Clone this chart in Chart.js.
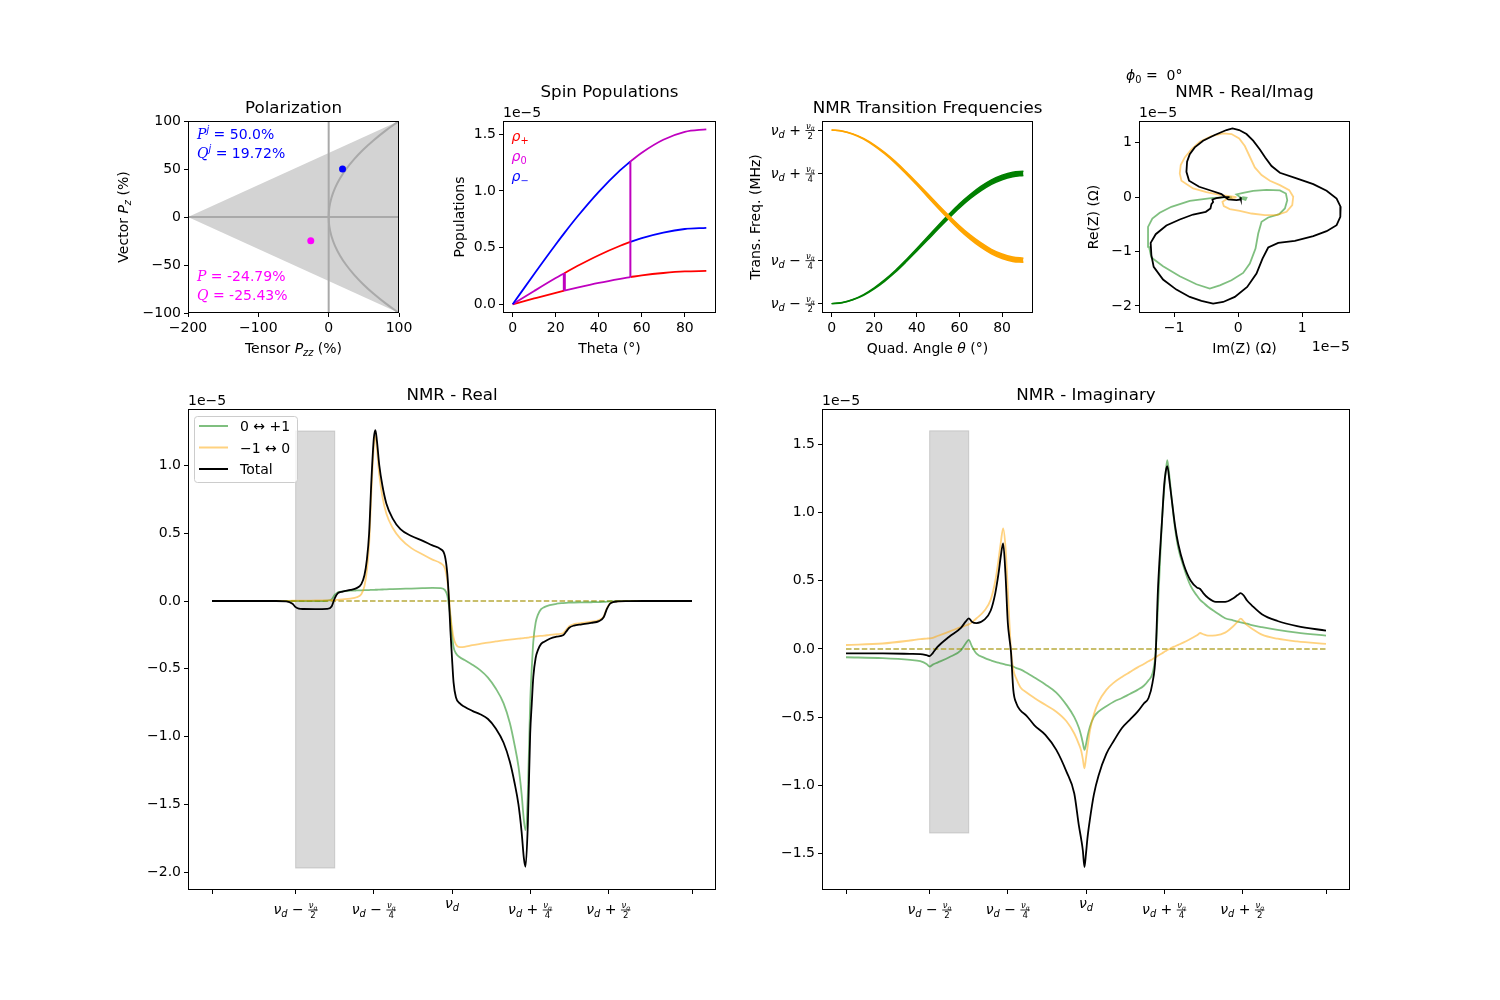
<!DOCTYPE html>
<html>
<head>
<meta charset="utf-8">
<script src="https://cdn.jsdelivr.net/npm/chart.js@4.4.1/dist/chart.umd.min.js"></script>
<style>
  html, body { margin: 0; padding: 0; background: #fff; }
  body { position: relative; width: 1500px; height: 1000px; overflow: hidden; }
  canvas { position: absolute; }
</style>
</head>
<body>
<canvas id="pol"></canvas>
<canvas id="pop"></canvas>
<canvas id="trans"></canvas>
<canvas id="cplx"></canvas>
<canvas id="real"></canvas>
<canvas id="imag"></canvas>
<script>
// ---- Polarization ----
const polTensor = [19.72, -25.43];   // [initial (j), current]  Q
const polVector = [50.0, -24.79];    // [initial (j), current]  P
const triUpper = [[-200, 0], [100, 100]];
const triLower = [[-200, 0], [100, -100]];
const parabolaY = [-100, -90, -80, -70, -60, -50, -40, -30, -20, -10, 0, 10, 20, 30, 40, 50, 60, 70, 80, 90, 100];
const parabolaX = [100, 81, 64, 49, 36, 25, 16, 9, 4, 1, 0, 1, 4, 9, 16, 25, 36, 49, 64, 81, 100];

// ---- Spin populations (x1e-5) ----
const popTheta  = [0, 10, 20, 24, 30, 40, 50, 54.7, 60, 70, 80, 90];
const popUpper  = [0, 0.268, 0.528, 0.628, 0.772, 0.992, 1.183, 1.260, 1.337, 1.451, 1.521, 1.544];
const popMiddle = [0, 0.117, 0.231, 0.274, 0.337, 0.433, 0.516, 0.550, 0.584, 0.633, 0.664, 0.674];
const popLower  = [0, 0.051, 0.101, 0.120, 0.147, 0.189, 0.225, 0.240, 0.255, 0.276, 0.290, 0.294];
const popBreaks = [24, 54.7];

// ---- Transition frequencies (units of nu_q, relative to nu_d) ----
const quadTheta = [0, 5, 10, 15, 20, 25, 30, 35, 40, 45, 50, 55, 60, 65, 70, 75, 80, 85, 90];
const greenLow   = [-0.500, -0.495, -0.478, -0.452, -0.415, -0.370, -0.318, -0.259, -0.197, -0.134, -0.070, -0.008, 0.051, 0.104, 0.149, 0.187, 0.214, 0.231, 0.238];
const greenHigh  = [-0.500, -0.493, -0.476, -0.448, -0.409, -0.362, -0.308, -0.247, -0.183, -0.116, -0.050, 0.014, 0.075, 0.128, 0.175, 0.213, 0.240, 0.257, 0.262];
const orangeHigh = [0.500, 0.495, 0.478, 0.452, 0.415, 0.370, 0.318, 0.259, 0.197, 0.134, 0.070, 0.008, -0.051, -0.104, -0.149, -0.187, -0.214, -0.231, -0.238];
const orangeLow  = [0.500, 0.493, 0.476, 0.448, 0.409, 0.362, 0.308, 0.247, 0.183, 0.116, 0.050, -0.014, -0.075, -0.128, -0.175, -0.213, -0.240, -0.257, -0.262];
const quadTicks = [-0.5, -0.25, 0.25, 0.5];
const quadTickLabels = ['-2', '-4', '+4', '+2'];   // nu_d -/+ nu_q/den

// ---- Real / Imag parametric (x1e-5): [Im, Re] ----
const cplxTotal = [[0.031,0.000],[0.042,-0.043],[-0.026,-0.055],[-0.156,-0.043],[-0.208,0.006],[-0.260,0.055],[-0.417,0.117],[-0.609,0.190],[-0.766,0.301],[-0.807,0.466],[-0.797,0.650],[-0.755,0.791],[-0.677,0.914],[-0.547,1.037],[-0.365,1.141],[-0.182,1.233],[-0.089,1.264],[0.016,1.233],[0.130,1.160],[0.234,1.037],[0.339,0.877],[0.422,0.730],[0.521,0.571],[0.651,0.448],[0.911,0.344],[1.172,0.239],[1.380,0.117],[1.536,-0.025],[1.599,-0.178],[1.594,-0.362],[1.536,-0.515],[1.380,-0.626],[1.172,-0.718],[0.885,-0.804],[0.625,-0.840],[0.469,-0.926],[0.380,-1.129],[0.286,-1.405],[0.141,-1.650],[-0.052,-1.834],[-0.234,-1.926],[-0.391,-1.957],[-0.573,-1.908],[-0.755,-1.834],[-0.964,-1.699],[-1.172,-1.515],[-1.318,-1.282],[-1.354,-1.067],[-1.365,-0.840],[-1.286,-0.681],[-1.120,-0.521],[-0.911,-0.411],[-0.703,-0.319],[-0.505,-0.270],[-0.432,-0.209],[-0.417,-0.129],[-0.391,-0.092],[-0.401,-0.043],[-0.339,-0.018],[-0.234,0.000],[-0.135,0.000]];
const cplxGreen = [[0.063,0.000],[0.130,-0.012],[0.115,-0.049],[0.068,-0.031],[-0.026,0.049],[0.078,0.080],[0.234,0.117],[0.443,0.135],[0.651,0.123],[0.745,0.067],[0.766,-0.055],[0.729,-0.209],[0.641,-0.313],[0.469,-0.374],[0.365,-0.454],[0.313,-0.669],[0.271,-0.945],[0.182,-1.221],[0.078,-1.393],[-0.104,-1.528],[-0.286,-1.620],[-0.443,-1.681],[-0.651,-1.601],[-0.911,-1.454],[-1.172,-1.270],[-1.354,-1.110],[-1.391,-0.914],[-1.406,-0.546],[-1.339,-0.393],[-1.224,-0.288],[-1.042,-0.178],[-0.755,-0.067],[-0.391,-0.012],[-0.099,0.000]];
const cplxOrange = [[-0.026,0.000],[-0.104,0.012],[-0.286,0.043],[-0.495,0.092],[-0.703,0.160],[-0.885,0.301],[-0.911,0.436],[-0.896,0.589],[-0.833,0.730],[-0.729,0.877],[-0.599,1.018],[-0.417,1.123],[-0.234,1.172],[-0.104,1.160],[0.016,1.080],[0.104,0.939],[0.182,0.742],[0.260,0.546],[0.365,0.405],[0.495,0.301],[0.651,0.221],[0.797,0.129],[0.859,0.006],[0.844,-0.147],[0.755,-0.270],[0.599,-0.331],[0.417,-0.331],[0.208,-0.301],[0.026,-0.252],[-0.130,-0.221],[-0.224,-0.166],[-0.245,-0.086],[-0.182,-0.037],[-0.068,-0.012],[-0.026,0.000]];

// ---- NMR lineshapes (x1e-5); frequency in units of nu_q/4 from nu_d ----
const freq = [-3.07, -2.6, -2.25, -2.12, -2.04, -2.0, -1.96, -1.9, -1.75, -1.6,
  -1.54, -1.5, -1.46, -1.4, -1.3, -1.22, -1.16, -1.12, -1.09, -1.06,
  -1.03, -1.0, -0.98, -0.96, -0.93, -0.89, -0.84, -0.76, -0.66, -0.52,
  -0.38, -0.25, -0.15, -0.09, -0.06, -0.04, -0.02, 0.0, 0.02, 0.05,
  0.1, 0.16, 0.26, 0.36, 0.46, 0.56, 0.66, 0.74, 0.8, 0.85,
  0.89, 0.92, 0.94, 0.97, 1.0, 1.02, 1.04, 1.07, 1.1, 1.14,
  1.18, 1.25, 1.34, 1.42, 1.46, 1.5, 1.56, 1.66, 1.78, 1.88,
  1.94, 1.98, 2.02, 2.06, 2.12, 2.25, 2.45, 2.7, 3.07];
const realGreen = [0, 0, 0, 0, 0, 0, 0, 0, 0, 0.002,
  0.012, 0.045, 0.064, 0.071, 0.076, 0.078, 0.079, 0.08, 0.081, 0.081,
  0.082, 0.082, 0.083, 0.083, 0.084, 0.085, 0.086, 0.088, 0.09, 0.092,
  0.095, 0.097, 0.095, 0.08, 0.04, -0.03, -0.12, -0.25, -0.34, -0.385,
  -0.415, -0.435, -0.47, -0.51, -0.565, -0.645, -0.755, -0.9, -1.06, -1.22,
  -1.42, -1.62, -1.69, -1.42, -0.75, -0.5, -0.3, -0.16, -0.1, -0.06,
  -0.045, -0.03, -0.02, -0.015, -0.013, -0.012, -0.011, -0.01, -0.009, -0.008,
  -0.007, -0.005, -0.003, -0.002, -0.001, 0, 0, 0, 0];
const realOrange = [0, 0, 0, 0.001, 0.002, 0.002, 0.003, 0.003, 0.004, 0.005,
  0.006, 0.007, 0.009, 0.012, 0.018, 0.028, 0.05, 0.11, 0.22, 0.42,
  0.82, 1.14, 1.22, 1.12, 0.93, 0.77, 0.645, 0.54, 0.46, 0.39,
  0.345, 0.305, 0.28, 0.24, 0.15, 0.04, -0.1, -0.2, -0.27, -0.32,
  -0.34, -0.338, -0.326, -0.316, -0.306, -0.298, -0.29, -0.285, -0.281, -0.278,
  -0.275, -0.273, -0.272, -0.27, -0.267, -0.265, -0.263, -0.261, -0.259, -0.257,
  -0.255, -0.25, -0.245, -0.238, -0.213, -0.185, -0.17, -0.162, -0.152, -0.14,
  -0.113, -0.055, -0.017, -0.006, -0.002, -0.001, 0, 0, 0];
const realTotal = [0, 0, 0, -0.002, -0.02, -0.045, -0.056, -0.059, -0.06, -0.058,
  -0.04, 0.02, 0.058, 0.07, 0.082, 0.095, 0.125, 0.19, 0.3, 0.5,
  0.9, 1.2, 1.26, 1.18, 1.0, 0.85, 0.72, 0.61, 0.53, 0.48,
  0.445, 0.41, 0.385, 0.33, 0.2, 0.02, -0.22, -0.42, -0.6, -0.71,
  -0.755, -0.78, -0.81, -0.835, -0.87, -0.94, -1.045, -1.185, -1.34, -1.5,
  -1.7, -1.9, -1.96, -1.65, -0.98, -0.76, -0.56, -0.42, -0.36, -0.316,
  -0.3, -0.278, -0.263, -0.253, -0.226, -0.197, -0.181, -0.172, -0.161, -0.148,
  -0.12, -0.06, -0.02, -0.008, -0.003, -0.001, 0, 0, 0];
const imagGreen = [-0.061, -0.067, -0.08, -0.09, -0.11, -0.13, -0.115, -0.1, -0.061, -0.01,
  0.04, 0.066, 0.02, -0.035, -0.065, -0.083, -0.095, -0.1, -0.105, -0.11,
  -0.115, -0.118, -0.12, -0.123, -0.13, -0.14, -0.15, -0.175, -0.21, -0.26,
  -0.32, -0.41, -0.5, -0.58, -0.64, -0.69, -0.74, -0.7, -0.64, -0.57,
  -0.5, -0.46, -0.42, -0.385, -0.36, -0.33, -0.3, -0.27, -0.23, -0.18,
  -0.03, 0.3, 0.55, 0.92, 1.17, 1.3, 1.385, 1.25, 1.08, 0.88,
  0.74, 0.6, 0.46, 0.39, 0.36, 0.34, 0.31, 0.27, 0.225, 0.21,
  0.2, 0.195, 0.19, 0.185, 0.175, 0.16, 0.14, 0.12, 0.098];
const imagOrange = [0.029, 0.04, 0.062, 0.072, 0.076, 0.078, 0.082, 0.095, 0.127, 0.16,
  0.172, 0.18, 0.195, 0.225, 0.28, 0.36, 0.5, 0.65, 0.78, 0.885,
  0.75, 0.43, 0.2, 0.0, -0.15, -0.22, -0.28, -0.32, -0.36, -0.41,
  -0.46, -0.53, -0.62, -0.7, -0.75, -0.81, -0.875, -0.8, -0.72, -0.6,
  -0.48, -0.39, -0.3, -0.245, -0.205, -0.17, -0.135, -0.11, -0.09, -0.075,
  -0.06, -0.05, -0.043, -0.033, -0.022, -0.015, -0.008, 0.0, 0.01, 0.02,
  0.03, 0.048, 0.075, 0.1, 0.117, 0.108, 0.098, 0.1, 0.12, 0.165,
  0.2, 0.222, 0.2, 0.175, 0.15, 0.105, 0.075, 0.055, 0.037];
const imagTotal = [-0.032, -0.033, -0.036, -0.038, -0.046, -0.052, -0.03, 0.015, 0.09, 0.155,
  0.2, 0.225, 0.2, 0.19, 0.215, 0.28, 0.41, 0.55, 0.68, 0.775,
  0.55, 0.19, 0.08, -0.02, -0.3, -0.4, -0.45, -0.49, -0.56, -0.63,
  -0.74, -0.9, -1.06, -1.3, -1.4, -1.48, -1.6, -1.5, -1.38, -1.25,
  -1.07, -0.93, -0.77, -0.67, -0.58, -0.52, -0.46, -0.4, -0.36, -0.25,
  -0.05, 0.43, 0.65, 0.92, 1.2, 1.3, 1.34, 1.22, 1.08, 0.9,
  0.77, 0.62, 0.5, 0.45, 0.44, 0.41, 0.375, 0.345, 0.345, 0.37,
  0.395, 0.41, 0.39, 0.355, 0.32, 0.255, 0.205, 0.168, 0.134];
const freqTicks = [-3.07, -2, -1, 0, 1, 2, 3.07];
const freqTickLabels = [null, '-2', '-4', '', '+4', '+2', null];
const bandX = [-2, -1.5];
const realBandY = [-1.969, 1.254];
const imagBandY = [-1.35, 1.6];

// ---------------------------------------------------------------
Chart.defaults.font.family = 'DejaVu Sans';
Chart.defaults.color = '#000';
Chart.defaults.animation = false;
Chart.defaults.elements.point.radius = 0;
Chart.defaults.elements.line.borderWidth = 1.5;

const PAD = { l: 100, r: 40, t: 70, b: 70 };
const GREEN = 'rgba(0,128,0,0.5)', ORANGE = 'rgba(255,165,0,0.5)';

function pts(xs, ys) { return xs.map((x, i) => ({ x: x, y: ys[i] })); }
function pairs(a) { return a.map(p => ({ x: p[0], y: p[1] })); }
function seg(xs, ys, a, b) { return pts(xs, ys).filter(p => p.x >= a && p.x <= b); }
const minus = s => String(s).replace('-', '\u2212');
const fmtInt = v => minus(v);
const fmt1 = v => minus(v.toFixed(1));
const blank = () => '';

function font(sz, it, fam) { return (it ? 'italic ' : '') + sz + 'px ' + (fam || 'DejaVu Sans'); }
// parts: [text, flags]; flags: i italic, b subscript, p superscript, s serif
function rich(ctx, parts, x, y, align, sz, measureOnly) {
  sz = sz || 14;
  const items = parts.map(p => {
    const f = p[1] || '';
    const small = f.includes('b') || f.includes('p');
    return { t: p[0], f: font(small ? sz * 0.7 : sz, f.includes('i'), f.includes('s') ? 'DejaVu Serif' : null),
      dy: f.includes('b') ? sz * 0.22 : (f.includes('p') ? -sz * 0.42 : 0) };
  });
  let w = 0;
  items.forEach(it => { ctx.font = it.f; it.w = ctx.measureText(it.t).width; w += it.w; });
  if (measureOnly) return w;
  let x0 = align === 'center' ? x - w / 2 : (align === 'right' ? x - w : x);
  ctx.textAlign = 'left'; ctx.textBaseline = 'alphabetic';
  items.forEach(it => { ctx.font = it.f; ctx.fillText(it.t, x0, y + it.dy); x0 += it.w; });
  return w;
}
function text(ctx, s, x, y, align, sz) { ctx.font = font(sz || 14); ctx.textAlign = align || 'left'; ctx.textBaseline = 'alphabetic'; ctx.fillText(s, x, y); }
function vlabel(ctx, parts, x, cy) { ctx.save(); ctx.translate(x, cy); ctx.rotate(-Math.PI / 2); rich(ctx, parts, 0, 0, 'center'); ctx.restore(); }

// nu_d (code '') or nu_d -/+ nu_q/den (code like '-2'); bar = y of fraction bar
function nuLabel(ctx, x, bar, code, align, aloneBase) {
  const main = [['\u03bd', 'i'], ['d', 'ib']];
  if (!code) { rich(ctx, main, x, aloneBase, align); return; }
  const parts = main.concat([[code[0] === '-' ? ' \u2212 ' : ' + ', '']]);
  const den = code.slice(1);
  const wMain = rich(ctx, parts, 0, 0, 'left', 14, true);
  ctx.font = font(8.5, true); const wn = ctx.measureText('\u03bd').width;
  ctx.font = font(6, true); const wq = ctx.measureText('q').width;
  ctx.font = font(8.5); const wd = ctx.measureText(den).width;
  const wf = Math.max(wn + wq, wd) + 1;
  const tot = wMain + wf;
  const x0 = align === 'center' ? x - tot / 2 : (align === 'right' ? x - tot : x);
  rich(ctx, parts, x0, bar + 4, 'left');
  const fx = x0 + wMain + wf / 2;
  ctx.textAlign = 'left';
  ctx.font = font(8.5, true); ctx.fillText('\u03bd', fx - (wn + wq) / 2, bar - 2);
  ctx.font = font(6, true); ctx.fillText('q', fx - (wn + wq) / 2 + wn, bar - 0.5);
  ctx.font = font(8.5); ctx.fillText(den, fx - wd / 2, bar + 8);
  ctx.fillRect(fx - wf / 2, bar - 0.4, wf, 0.8);
}

function axis(pos, min, max, ticks, fmt) {
  return {
    type: 'linear', position: pos === 'x' ? 'bottom' : 'left', min: min, max: max,
    border: { display: false },
    grid: { drawOnChartArea: false, drawTicks: true, tickLength: 4, color: '#000', lineWidth: 1 },
    ticks: { autoSkip: false, maxRotation: 0, minRotation: 0, padding: 3, font: { size: 14 }, color: '#000', callback: fmt },
    afterBuildTicks: s => { s.ticks = ticks.map(v => ({ value: v })); },
    afterFit: s => { if (pos === 'x') s.height = PAD.b; else s.width = PAD.l; }
  };
}

function deco(under, over) {
  return {
    id: 'deco',
    beforeDatasetsDraw(c) { if (under) { c.ctx.save(); under(c, c.ctx, c.chartArea); c.ctx.restore(); } },
    afterDraw(c) {
      const ctx = c.ctx, a = c.chartArea;
      ctx.save();
      ctx.strokeStyle = '#000'; ctx.lineWidth = 1;
      ctx.strokeRect(Math.round(a.left) + 0.5, Math.round(a.top) + 0.5, Math.round(a.right - a.left) - 1, Math.round(a.bottom - a.top) - 1);
      ctx.fillStyle = '#000';
      if (over) over(c, ctx, a);
      ctx.restore();
    }
  };
}

function make(id, box, datasets, xs, ys, plugin) {
  const cv = document.getElementById(id);
  cv.width = box[2] - box[0] + PAD.l + PAD.r;
  cv.height = box[3] - box[1] + PAD.t + PAD.b;
  cv.style.left = (box[0] - PAD.l) + 'px';
  cv.style.top = (box[1] - PAD.t) + 'px';
  return new Chart(cv, {
    type: 'line',
    data: { datasets: datasets },
    options: {
      responsive: false, devicePixelRatio: 1, events: [],
      layout: { padding: { top: PAD.t, right: PAD.r, left: 0, bottom: 0 } },
      plugins: { legend: { display: false }, tooltip: { enabled: false } },
      scales: { x: xs, y: ys }
    },
    plugins: [plugin]
  });
}
const mid = a => (a.left + a.right) / 2;
const midY = a => (a.top + a.bottom) / 2;

// ---------------- Polarization ----------------
make('pol', [188, 121, 399, 313], [
  { data: [{ x: polTensor[0], y: polVector[0] }], showLine: false, pointRadius: 3.5, pointBorderWidth: 0, pointBackgroundColor: '#0000ff' },
  { data: [{ x: polTensor[1], y: polVector[1] }], showLine: false, pointRadius: 3.5, pointBorderWidth: 0, pointBackgroundColor: '#ff00ff' },
  { data: pts(parabolaX, parabolaY), borderColor: '#a9a9a9', borderWidth: 2, tension: 0.4 },
  { data: [{ x: -200, y: 0 }, { x: 100, y: 0 }], borderColor: '#a9a9a9', borderWidth: 2 },
  { data: [{ x: 0, y: -100 }, { x: 0, y: 100 }], borderColor: '#a9a9a9', borderWidth: 2 },
  { data: pairs(triUpper), borderWidth: 0, fill: '+1', backgroundColor: '#d3d3d3' },
  { data: pairs(triLower), borderWidth: 0 }
], axis('x', -200, 100, [-200, -100, 0, 100], fmtInt), axis('y', -100, 100, [-100, -50, 0, 50, 100], fmtInt),
deco(null, (c, ctx, a) => {
  text(ctx, 'Polarization', mid(a), a.top - 8.5, 'center', 16.7);
  rich(ctx, [['Tensor ', ''], ['P', 'i'], ['zz', 'ib'], [' (%)', '']], mid(a), a.bottom + 40, 'center');
  vlabel(ctx, [['Vector ', ''], ['P', 'i'], ['z', 'ib'], [' (%)', '']], a.left - 60, midY(a));
  ctx.fillStyle = '#0000ff';
  rich(ctx, [['P', 'is'], ['j', 'ip'], [' = ' + polVector[0].toFixed(1) + '%', '']], a.left + 9, a.top + 17.5);
  rich(ctx, [['Q', 'is'], ['j', 'ip'], [' = ' + polTensor[0].toFixed(2) + '%', '']], a.left + 9, a.top + 37);
  ctx.fillStyle = '#ff00ff';
  rich(ctx, [['P', 'is'], [' = ' + polVector[1].toFixed(2) + '%', '']], a.left + 9, a.top + 159.5);
  rich(ctx, [['Q', 'is'], [' = ' + polTensor[1].toFixed(2) + '%', '']], a.left + 9, a.top + 178.5);
}));

// ---------------- Spin populations ----------------
const RED = '#ff0000', BLUE = '#0000ff', MAG = '#bf00bf';
const iA = popTheta.indexOf(popBreaks[0]), iB = popTheta.indexOf(popBreaks[1]);
const popLine = (d, col, w) => ({ data: d, borderColor: col, borderWidth: w || 1.8, cubicInterpolationMode: 'monotone' });
make('pop', [503, 121, 716, 313], [
  popLine([{ x: popBreaks[0], y: popLower[iA] }, { x: popBreaks[0], y: popMiddle[iA] }], MAG, 3),
  popLine([{ x: popBreaks[1], y: popLower[iB] }, { x: popBreaks[1], y: popUpper[iB] }], MAG, 2),
  popLine(seg(popTheta, popUpper, 0, popBreaks[1]), BLUE),
  popLine(seg(popTheta, popUpper, popBreaks[1], 90), MAG),
  popLine(seg(popTheta, popMiddle, 0, popBreaks[0]), MAG),
  popLine(seg(popTheta, popMiddle, popBreaks[0], popBreaks[1]), RED),
  popLine(seg(popTheta, popMiddle, popBreaks[1], 90), BLUE),
  popLine(seg(popTheta, popLower, 0, popBreaks[0]), RED),
  popLine(seg(popTheta, popLower, popBreaks[0], popBreaks[1]), MAG),
  popLine(seg(popTheta, popLower, popBreaks[1], 90), RED)
], axis('x', -4.5, 94.5, [0, 20, 40, 60, 80], fmtInt), axis('y', -0.077, 1.617, [0, 0.5, 1, 1.5], fmt1),
deco(null, (c, ctx, a) => {
  text(ctx, 'Spin Populations', mid(a), a.top - 24, 'center', 16.7);
  text(ctx, '1e\u22125', a.left, a.top - 4.5, 'left');
  text(ctx, 'Theta (\u00b0)', mid(a), a.bottom + 40, 'center');
  vlabel(ctx, [['Populations', '']], a.left - 39, midY(a));
  ctx.fillStyle = RED; rich(ctx, [['\u03c1', 'i'], ['+', 'b']], a.left + 8.5, a.top + 19.5);
  ctx.fillStyle = '#e000e0'; rich(ctx, [['\u03c1', 'i'], ['0', 'b']], a.left + 8.5, a.top + 39.5);
  ctx.fillStyle = BLUE; rich(ctx, [['\u03c1', 'i'], ['\u2212', 'b']], a.left + 8.5, a.top + 59.5);
}));

// ---------------- Transition frequencies ----------------
const band = (ys, col, fill) => ({ data: pts(quadTheta, ys), borderColor: col, backgroundColor: col, borderWidth: 1.5, fill: fill, cubicInterpolationMode: 'monotone' });
make('trans', [822, 121, 1033, 313], [
  band(orangeHigh, '#ffa500', '+1'),
  band(orangeLow, '#ffa500', false),
  band(greenHigh, '#008000', '+1'),
  band(greenLow, '#008000', false)
], axis('x', -4.5, 94.5, [0, 20, 40, 60, 80], fmtInt), axis('y', -0.554, 0.552, quadTicks, blank),
deco(null, (c, ctx, a) => {
  text(ctx, 'NMR Transition Frequencies', mid(a), a.top - 8.5, 'center', 16.7);
  rich(ctx, [['Quad. Angle ', ''], ['\u03b8', 'i'], [' (\u00b0)', '']], mid(a), a.bottom + 40, 'center');
  vlabel(ctx, [['Trans. Freq. (MHz)', '']], a.left - 62, midY(a));
  const ys = c.scales.y;
  quadTicks.forEach((v, i) => nuLabel(ctx, a.left - 7, ys.getPixelForValue(v) + 0.5, quadTickLabels[i], 'right'));
}));

// ---------------- Real / Imag ----------------
make('cplx', [1139, 121, 1350, 313], [
  { data: pairs(cplxTotal), borderColor: '#000', borderWidth: 1.8 },
  { data: pairs(cplxOrange), borderColor: ORANGE, borderWidth: 1.8 },
  { data: pairs(cplxGreen), borderColor: GREEN, borderWidth: 1.8 }
], axis('x', -1.547, 1.745, [-1, 0, 1], fmtInt), axis('y', -2.129, 1.399, [-2, -1, 0, 1], fmtInt),
deco(null, (c, ctx, a) => {
  text(ctx, 'NMR - Real/Imag', mid(a), a.top - 24, 'center', 16.7);
  rich(ctx, [['\u03d5', 'i'], ['0', 'b'], [' =  0', ''], ['\u00b0', '']], a.left - 13, a.top - 40.7, 'left');
  text(ctx, '1e\u22125', a.left, a.top - 4.5, 'left');
  text(ctx, '1e\u22125', a.right, a.bottom + 37.5, 'right');
  text(ctx, 'Im(Z) (\u03a9)', mid(a), a.bottom + 40, 'center');
  vlabel(ctx, [['Re(Z) (\u03a9)', '']], a.left - 41, midY(a));
}));

// ---------------- Lineshapes ----------------
function lineSets(g, o, t) {
  return [
    { label: 'Total', data: pts(freq, t), borderColor: '#000', borderWidth: 1.8, cubicInterpolationMode: 'monotone' },
    { label: '\u22121 \u2194 0', data: pts(freq, o), borderColor: ORANGE, borderWidth: 1.8, cubicInterpolationMode: 'monotone' },
    { label: '0 \u2194 +1', data: pts(freq, g), borderColor: GREEN, borderWidth: 1.8, cubicInterpolationMode: 'monotone' },
    { label: '', data: [{ x: freq[0], y: 0 }, { x: freq[freq.length - 1], y: 0 }], borderColor: '#b8ab3c', borderWidth: 1.5, borderDash: [5.5, 2.4] }
  ];
}
function drawBand(c, ctx, ys) {
  const x0 = c.scales.x.getPixelForValue(bandX[0]), x1 = c.scales.x.getPixelForValue(bandX[1]);
  const y0 = c.scales.y.getPixelForValue(ys[1]), y1 = c.scales.y.getPixelForValue(ys[0]);
  ctx.fillStyle = 'rgba(128,128,128,0.3)';
  ctx.fillRect(x0, y0, x1 - x0, y1 - y0);
  ctx.strokeStyle = 'rgba(128,128,128,0.3)'; ctx.lineWidth = 1;
  ctx.strokeRect(x0, y0, x1 - x0, y1 - y0);
}
function freqLabels(c, ctx, a) {
  freqTicks.forEach((v, i) => {
    const code = freqTickLabels[i];
    if (code === null) return;
    nuLabel(ctx, c.scales.x.getPixelForValue(v), a.bottom + 20, code, 'center', a.bottom + 17.5);
  });
}
const XB = [-3.377, 3.377];

make('real', [188, 409, 716, 890], lineSets(realGreen, realOrange, realTotal),
  axis('x', XB[0], XB[1], freqTicks, blank), axis('y', -2.131, 1.416, [-2, -1.5, -1, -0.5, 0, 0.5, 1], fmt1),
  deco((c, ctx) => drawBand(c, ctx, realBandY), (c, ctx, a) => {
    text(ctx, 'NMR - Real', mid(a), a.top - 9, 'center', 16.7);
    text(ctx, '1e\u22125', a.left, a.top - 4, 'left');
    freqLabels(c, ctx, a);
    // legend
    const L = a.left, T = a.top;
    ctx.beginPath(); ctx.roundRect(L + 6.5, T + 7.5, 103, 66, 3);
    ctx.fillStyle = 'rgba(255,255,255,0.8)'; ctx.fill();
    ctx.strokeStyle = '#cccccc'; ctx.lineWidth = 1; ctx.stroke();
    const ds = c.data.datasets;
    [[ds[2], 17], [ds[1], 38.5], [ds[0], 60]].forEach(e => {
      ctx.strokeStyle = e[0].borderColor; ctx.lineWidth = 2;
      ctx.beginPath(); ctx.moveTo(L + 11, T + e[1]); ctx.lineTo(L + 40, T + e[1]); ctx.stroke();
      ctx.fillStyle = '#000'; text(ctx, e[0].label, L + 52, T + e[1] + 5, 'left');
    });
  }));

make('imag', [822, 409, 1350, 890], lineSets(imagGreen, imagOrange, imagTotal),
  axis('x', XB[0], XB[1], freqTicks, blank), axis('y', -1.768, 1.76, [-1.5, -1, -0.5, 0, 0.5, 1, 1.5], fmt1),
  deco((c, ctx) => drawBand(c, ctx, imagBandY), (c, ctx, a) => {
    text(ctx, 'NMR - Imaginary', mid(a), a.top - 9, 'center', 16.7);
    text(ctx, '1e\u22125', a.left, a.top - 4, 'left');
    freqLabels(c, ctx, a);
  }));
</script>
</body>
</html>
